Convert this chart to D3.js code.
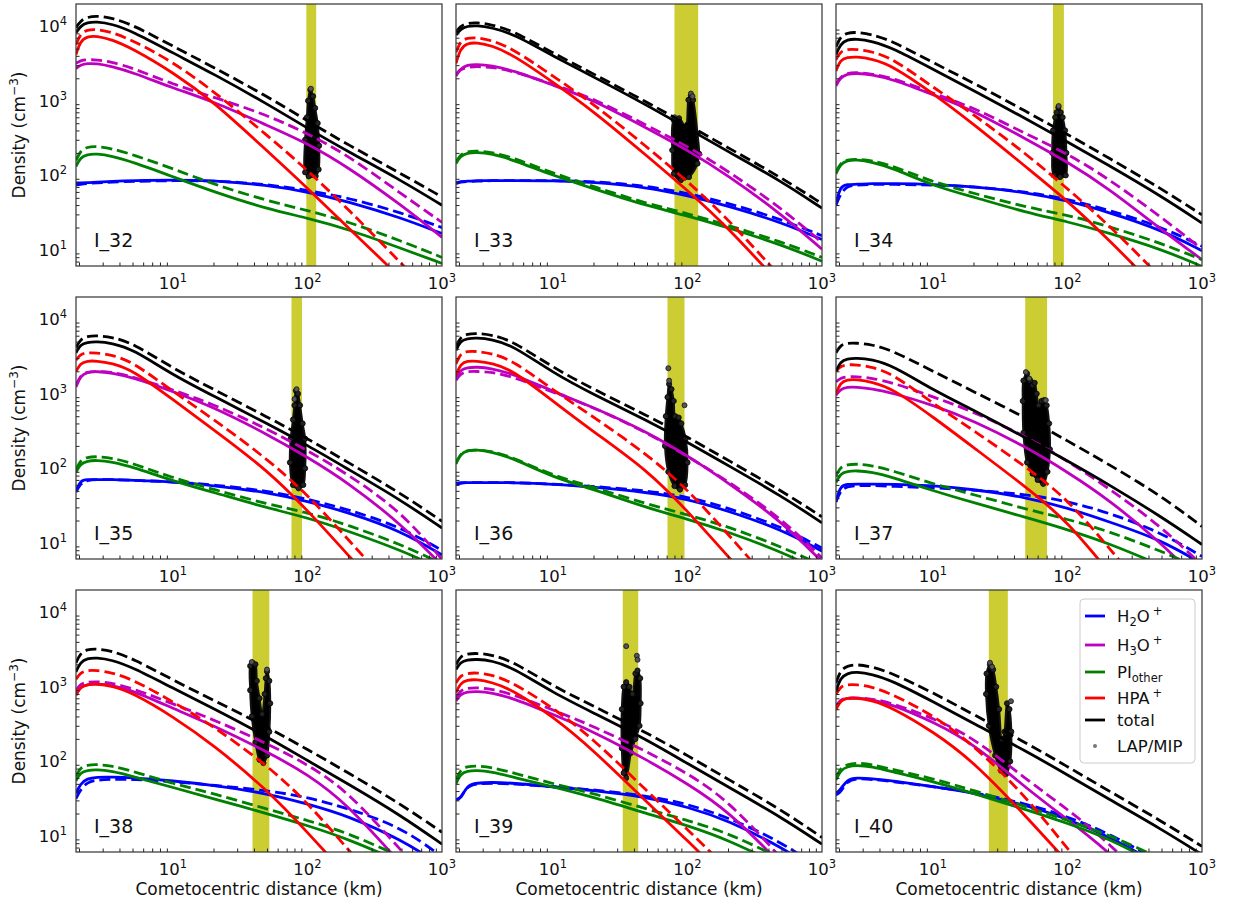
<!DOCTYPE html>
<html>
<head>
<meta charset="utf-8">
<script src="https://cdn.jsdelivr.net/npm/d3@7"></script>
<style>
  body { margin: 0; background: #fff; }
  svg { display: block; }
</style>
</head>
<body>
<svg></svg>
<script>
const width = 1239;
const height = 904;
const panelW = 366;
const panelH = 262;
const colX = [76, 456, 836];
const rowY = [4, 297, 590];

// model grid (km) shared by every curve
const distKm = [1.9, 2.05, 2.3, 2.7, 3.5, 5, 10, 20, 50, 100, 200, 500, 1000];
const runs = ["I_32", "I_33", "I_34", "I_35", "I_36", "I_37", "I_38", "I_39", "I_40"];
// spacecraft distance interval (km) per run
const bandKm = [[98, 116], [80, 120], [78, 94], [76, 91], [71, 95], [48.5, 70.5], [39, 52], [33, 43], [26, 36]];
const xTicks = [10, 100, 1000];
const yTicks = [10, 100, 1000, 10000];

// log10 density (cm^-3), one row per run
const h2oSolid = [
  [1.90, 1.90, 1.90, 1.91, 1.92, 1.93, 1.94, 1.93, 1.87, 1.78, 1.65, 1.43, 1.22],
  [1.90, 1.92, 1.92, 1.93, 1.93, 1.93, 1.93, 1.91, 1.84, 1.73, 1.59, 1.37, 1.14],
  [1.62, 1.86, 1.88, 1.88, 1.89, 1.89, 1.88, 1.85, 1.77, 1.66, 1.51, 1.27, 0.99],
  [1.70, 1.84, 1.85, 1.85, 1.85, 1.84, 1.82, 1.77, 1.68, 1.56, 1.41, 1.16, 0.84],
  [1.80, 1.81, 1.81, 1.81, 1.81, 1.81, 1.79, 1.75, 1.68, 1.59, 1.43, 1.18, 0.89],
  [1.56, 1.77, 1.79, 1.79, 1.79, 1.79, 1.77, 1.72, 1.61, 1.47, 1.29, 1.04, 0.72],
  [1.57, 1.70, 1.77, 1.79, 1.79, 1.78, 1.74, 1.68, 1.57, 1.43, 1.27, 0.95, 0.60],
  [1.49, 1.49, 1.68, 1.71, 1.72, 1.71, 1.66, 1.61, 1.52, 1.39, 1.21, 0.85, 0.50],
  [1.57, 1.62, 1.76, 1.78, 1.77, 1.74, 1.66, 1.58, 1.41, 1.23, 1.00, 0.60, 0.30]
];
const h2oDashed = [
  [1.87, 1.88, 1.89, 1.90, 1.91, 1.92, 1.93, 1.93, 1.88, 1.80, 1.70, 1.50, 1.30],
  [1.89, 1.91, 1.92, 1.92, 1.93, 1.93, 1.93, 1.92, 1.86, 1.76, 1.63, 1.41, 1.19],
  [1.60, 1.75, 1.86, 1.87, 1.88, 1.88, 1.87, 1.85, 1.78, 1.68, 1.54, 1.31, 1.05],
  [1.68, 1.80, 1.84, 1.85, 1.85, 1.84, 1.82, 1.78, 1.70, 1.59, 1.45, 1.21, 0.90],
  [1.79, 1.80, 1.81, 1.81, 1.81, 1.81, 1.79, 1.76, 1.70, 1.62, 1.47, 1.22, 0.93],
  [1.55, 1.70, 1.76, 1.77, 1.77, 1.76, 1.74, 1.71, 1.65, 1.56, 1.41, 1.14, 0.82],
  [1.50, 1.62, 1.72, 1.75, 1.76, 1.76, 1.73, 1.68, 1.61, 1.52, 1.37, 1.12, 0.72],
  [1.49, 1.50, 1.67, 1.70, 1.71, 1.70, 1.66, 1.62, 1.54, 1.43, 1.25, 0.92, 0.55],
  [1.55, 1.58, 1.74, 1.77, 1.76, 1.73, 1.66, 1.59, 1.43, 1.26, 1.04, 0.65, 0.35]
];
const h3oSolid = [
  [3.43, 3.48, 3.50, 3.50, 3.46, 3.38, 3.17, 2.99, 2.67, 2.43, 2.11, 1.60, 1.17],
  [3.33, 3.43, 3.48, 3.49, 3.47, 3.41, 3.21, 3.01, 2.63, 2.34, 2.00, 1.48, 1.01],
  [3.20, 3.31, 3.36, 3.37, 3.35, 3.29, 3.08, 2.87, 2.48, 2.18, 1.83, 1.27, 0.87],
  [3.09, 3.24, 3.29, 3.30, 3.28, 3.22, 3.03, 2.82, 2.46, 2.15, 1.81, 1.25, 0.70],
  [3.22, 3.32, 3.35, 3.36, 3.34, 3.27, 3.03, 2.82, 2.49, 2.17, 1.81, 1.29, 0.75],
  [2.98, 3.06, 3.09, 3.09, 3.07, 3.01, 2.85, 2.64, 2.28, 1.95, 1.59, 1.00, 0.45],
  [2.89, 3.00, 3.03, 3.04, 3.02, 2.95, 2.71, 2.48, 2.13, 1.83, 1.42, 0.62, 0.00],
  [2.81, 2.90, 2.93, 2.94, 2.92, 2.85, 2.63, 2.40, 2.02, 1.70, 1.34, 0.62, 0.00],
  [2.72, 2.82, 2.85, 2.85, 2.83, 2.76, 2.53, 2.24, 1.63, 1.22, 0.80, 0.10, -0.50]
];
const h3oDashed = [
  [3.50, 3.54, 3.55, 3.55, 3.52, 3.44, 3.22, 3.05, 2.81, 2.56, 2.27, 1.75, 1.37],
  [3.36, 3.42, 3.45, 3.46, 3.45, 3.40, 3.22, 3.03, 2.67, 2.39, 2.06, 1.56, 1.10],
  [3.22, 3.32, 3.37, 3.38, 3.36, 3.31, 3.10, 2.91, 2.55, 2.29, 1.96, 1.44, 1.01],
  [3.11, 3.25, 3.29, 3.30, 3.29, 3.23, 3.05, 2.86, 2.53, 2.24, 1.92, 1.42, 0.78],
  [3.18, 3.27, 3.30, 3.30, 3.29, 3.23, 3.02, 2.82, 2.48, 2.16, 1.83, 1.33, 0.80],
  [3.16, 3.21, 3.23, 3.23, 3.21, 3.15, 2.96, 2.76, 2.42, 2.10, 1.74, 1.22, 0.70],
  [2.95, 3.04, 3.06, 3.07, 3.05, 2.98, 2.77, 2.56, 2.24, 1.96, 1.60, 0.80, 0.20],
  [2.85, 2.95, 2.98, 2.99, 2.97, 2.90, 2.69, 2.47, 2.13, 1.84, 1.48, 0.70, 0.10],
  [2.74, 2.83, 2.85, 2.85, 2.84, 2.78, 2.58, 2.32, 1.75, 1.36, 0.92, 0.20, -0.40]
];
const piSolid = [
  [2.12, 2.24, 2.28, 2.29, 2.26, 2.18, 1.98, 1.78, 1.55, 1.43, 1.28, 1.02, 0.82],
  [2.16, 2.26, 2.30, 2.31, 2.29, 2.21, 2.00, 1.82, 1.59, 1.46, 1.30, 1.07, 0.85],
  [2.02, 2.15, 2.20, 2.21, 2.18, 2.10, 1.86, 1.71, 1.50, 1.38, 1.23, 1.01, 0.78],
  [1.95, 2.06, 2.10, 2.11, 2.09, 2.02, 1.83, 1.68, 1.47, 1.34, 1.16, 0.90, 0.65],
  [2.06, 2.19, 2.24, 2.25, 2.22, 2.14, 1.88, 1.72, 1.47, 1.32, 1.15, 0.88, 0.62],
  [1.81, 1.93, 1.96, 1.97, 1.95, 1.88, 1.70, 1.54, 1.34, 1.18, 1.00, 0.70, 0.45],
  [1.74, 1.85, 1.88, 1.89, 1.87, 1.80, 1.65, 1.50, 1.30, 1.14, 0.96, 0.65, 0.40],
  [1.70, 1.83, 1.87, 1.88, 1.86, 1.79, 1.66, 1.52, 1.30, 1.14, 0.95, 0.60, 0.35],
  [1.75, 1.88, 1.93, 1.95, 1.93, 1.86, 1.73, 1.57, 1.35, 1.17, 0.97, 0.60, 0.30]
];
const piDashed = [
  [2.20, 2.33, 2.38, 2.39, 2.36, 2.28, 2.09, 1.88, 1.66, 1.53, 1.38, 1.12, 0.90],
  [2.18, 2.28, 2.32, 2.33, 2.31, 2.24, 2.03, 1.85, 1.62, 1.49, 1.33, 1.11, 0.90],
  [2.04, 2.17, 2.21, 2.22, 2.20, 2.13, 1.91, 1.76, 1.57, 1.47, 1.32, 1.09, 0.87],
  [1.98, 2.11, 2.15, 2.16, 2.14, 2.07, 1.87, 1.72, 1.52, 1.41, 1.24, 0.98, 0.72],
  [2.07, 2.20, 2.24, 2.25, 2.23, 2.15, 1.90, 1.75, 1.52, 1.38, 1.22, 0.95, 0.70],
  [1.90, 2.02, 2.05, 2.06, 2.04, 1.97, 1.79, 1.65, 1.45, 1.32, 1.16, 0.89, 0.65],
  [1.80, 1.92, 1.95, 1.96, 1.94, 1.87, 1.70, 1.57, 1.36, 1.21, 1.04, 0.72, 0.45],
  [1.75, 1.89, 1.93, 1.94, 1.92, 1.85, 1.70, 1.57, 1.36, 1.21, 1.04, 0.70, 0.40],
  [1.78, 1.91, 1.96, 1.98, 1.96, 1.89, 1.77, 1.61, 1.39, 1.21, 1.02, 0.70, 0.40]
];
const hpaSolid = [
  [3.62, 3.80, 3.86, 3.87, 3.82, 3.70, 3.38, 2.99, 2.33, 1.83, 1.30, 0.62, 0.05],
  [3.50, 3.70, 3.77, 3.78, 3.74, 3.62, 3.25, 2.86, 2.26, 1.80, 1.30, 0.52, -0.05],
  [3.40, 3.55, 3.58, 3.59, 3.56, 3.47, 3.10, 2.69, 2.10, 1.66, 1.15, 0.42, -0.15],
  [3.30, 3.41, 3.44, 3.44, 3.41, 3.32, 2.92, 2.52, 1.98, 1.44, 0.84, 0.05, -0.55],
  [3.25, 3.40, 3.44, 3.44, 3.41, 3.32, 2.90, 2.49, 1.98, 1.43, 0.82, 0.02, -0.58],
  [3.00, 3.15, 3.19, 3.19, 3.16, 3.07, 2.69, 2.28, 1.74, 1.29, 0.62, -0.20, -0.80],
  [2.89, 3.00, 3.03, 3.04, 3.01, 2.92, 2.60, 2.22, 1.62, 1.05, 0.45, -0.30, -0.90],
  [2.92, 3.05, 3.09, 3.10, 3.06, 2.96, 2.60, 2.15, 1.45, 0.94, 0.40, -0.30, -0.85],
  [2.69, 2.82, 2.85, 2.85, 2.82, 2.72, 2.40, 2.00, 1.25, 0.65, 0.05, -0.70, -1.30]
];
const hpaDashed = [
  [3.75, 3.90, 3.95, 3.96, 3.92, 3.81, 3.52, 3.13, 2.54, 2.07, 1.55, 0.82, 0.25],
  [3.65, 3.80, 3.84, 3.85, 3.81, 3.70, 3.33, 2.96, 2.38, 1.92, 1.42, 0.62, 0.05],
  [3.55, 3.66, 3.69, 3.69, 3.66, 3.57, 3.18, 2.82, 2.28, 1.82, 1.35, 0.62, 0.05],
  [3.45, 3.53, 3.55, 3.55, 3.52, 3.43, 3.03, 2.66, 2.13, 1.65, 1.05, 0.25, -0.40],
  [3.40, 3.54, 3.57, 3.57, 3.54, 3.45, 3.05, 2.69, 2.19, 1.72, 1.12, 0.30, -0.30],
  [3.30, 3.37, 3.39, 3.39, 3.36, 3.27, 2.87, 2.51, 2.01, 1.59, 0.95, 0.10, -0.50],
  [3.10, 3.19, 3.22, 3.22, 3.19, 3.10, 2.80, 2.47, 1.95, 1.45, 0.82, 0.00, -0.60],
  [3.05, 3.15, 3.18, 3.19, 3.16, 3.06, 2.72, 2.30, 1.60, 1.09, 0.55, -0.15, -0.70],
  [2.90, 3.00, 3.03, 3.03, 3.00, 2.90, 2.62, 2.22, 1.52, 0.82, 0.20, -0.50, -1.10]
];
const totalSolid = [
  [3.91, 4.00, 4.05, 4.06, 4.03, 3.93, 3.64, 3.36, 2.96, 2.63, 2.32, 1.93, 1.60],
  [3.88, 3.96, 4.00, 4.01, 3.98, 3.90, 3.60, 3.32, 2.94, 2.63, 2.32, 1.92, 1.56],
  [3.62, 3.76, 3.82, 3.83, 3.80, 3.71, 3.42, 3.14, 2.75, 2.45, 2.14, 1.72, 1.36],
  [3.55, 3.66, 3.69, 3.70, 3.68, 3.60, 3.25, 2.97, 2.60, 2.31, 1.99, 1.57, 1.20],
  [3.58, 3.71, 3.74, 3.75, 3.73, 3.65, 3.28, 2.99, 2.64, 2.35, 2.04, 1.63, 1.27],
  [3.30, 3.43, 3.47, 3.48, 3.46, 3.38, 3.05, 2.78, 2.40, 2.10, 1.79, 1.35, 0.98],
  [3.20, 3.33, 3.38, 3.39, 3.36, 3.26, 2.98, 2.71, 2.33, 2.01, 1.70, 1.27, 0.89],
  [3.23, 3.33, 3.36, 3.37, 3.35, 3.26, 2.92, 2.65, 2.29, 1.97, 1.66, 1.25, 0.89],
  [2.94, 3.12, 3.18, 3.20, 3.17, 3.08, 2.80, 2.51, 2.13, 1.82, 1.50, 1.09, 0.75]
];
const totalDashed = [
  [3.98, 4.07, 4.12, 4.14, 4.11, 4.02, 3.73, 3.45, 3.06, 2.73, 2.41, 2.02, 1.71],
  [3.92, 4.00, 4.04, 4.05, 4.02, 3.94, 3.64, 3.36, 2.98, 2.68, 2.37, 1.97, 1.62],
  [3.72, 3.86, 3.91, 3.92, 3.89, 3.80, 3.51, 3.24, 2.85, 2.55, 2.24, 1.82, 1.47],
  [3.62, 3.73, 3.77, 3.78, 3.76, 3.68, 3.34, 3.06, 2.69, 2.40, 2.08, 1.66, 1.29],
  [3.63, 3.76, 3.80, 3.81, 3.79, 3.71, 3.35, 3.06, 2.71, 2.42, 2.11, 1.70, 1.35],
  [3.55, 3.65, 3.68, 3.68, 3.66, 3.58, 3.30, 3.03, 2.67, 2.37, 2.06, 1.63, 1.22],
  [3.32, 3.45, 3.50, 3.51, 3.48, 3.38, 3.09, 2.82, 2.46, 2.16, 1.85, 1.42, 1.05],
  [3.30, 3.41, 3.44, 3.45, 3.43, 3.34, 3.01, 2.74, 2.38, 2.08, 1.76, 1.35, 0.98],
  [3.05, 3.22, 3.28, 3.30, 3.27, 3.18, 2.92, 2.63, 2.24, 1.93, 1.61, 1.20, 0.86]
];

// LAP/MIP measurements: outline of the dense point cloud [km, cm^-3]
const lapMipOutline = [
  [[105, 1400], [110, 1150], [114, 800], [119, 500], [122, 250], [121, 120], [115, 98], [102, 97], [96, 110], [96, 300], [99, 600], [101, 1000]],
  [[79, 553], [86.5, 583], [97, 450], [101.6, 1025], [105.8, 1170], [110, 1025], [118.6, 363], [122, 195], [118.6, 144], [102.6, 95], [89, 86], [79, 105], [77, 218]],
  [[85.5, 815], [89, 700], [92, 600], [96, 400], [98, 200], [97, 100], [88, 95], [79, 100], [77, 200], [78, 400], [81, 600], [83, 700]],
  [[82, 1100], [85, 1000], [88, 700], [92, 400], [96, 250], [96, 100], [93, 60], [86, 54], [78, 60], [74, 120], [75, 250], [78, 450], [80, 700]],
  [[73, 1350], [76, 1150], [79, 800], [81, 500], [86, 480], [90, 400], [97, 250], [100, 120], [96, 60], [88, 52], [80, 58], [72, 90], [68, 200], [69, 500], [71, 900]],
  [[47, 1500], [50, 1870], [53, 1500], [55, 1300], [57, 1400], [59, 1000], [61, 700], [64, 800], [67, 820], [70, 700], [73, 400], [74, 180], [71, 90], [66, 62], [60, 70], [55, 85], [50, 120], [47, 300], [46.5, 800]],
  [[37.5, 1900], [39, 2100], [41, 2000], [42, 1200], [44, 700], [46, 430], [48, 800], [49, 1300], [50, 1600], [52, 1200], [52.8, 600], [52, 250], [50, 120], [47, 95], [44, 105], [41, 180], [38.5, 400], [37.5, 900]],
  [[33.5, 1000], [35, 1150], [37, 1000], [39, 800], [41, 1500], [42.5, 1650], [44.5, 1300], [44.8, 600], [44, 300], [41, 200], [38, 130], [35, 60], [33.5, 70], [32.5, 150], [32.5, 500]],
  [[25, 1500], [26.5, 2000], [28, 1700], [29.5, 1000], [31, 500], [32.5, 200], [34, 250], [35.5, 600], [37, 500], [38.2, 250], [37.5, 100], [35, 68], [32, 75], [29, 120], [26, 300], [24.8, 800]]
];
// isolated LAP/MIP points outside the cloud
const lapMipOutliers = [
  [[106, 1450]],
  [[80, 600], [106, 1250], [109, 1150]],
  [[86, 850]],
  [[83, 1150], [80, 850]],
  [[72, 2200], [73, 1500], [95, 700]],
  [[49, 1950], [52, 1600], [69, 820]],
  [[38.5, 2150], [50, 1700]],
  [[35, 3500], [42, 2600], [42.5, 2300]],
  [[26.5, 2100], [27.5, 1850], [38, 640]]
];

const seriesDefs = [
  { key: "h2o", color: "#0000ff", solid: h2oSolid, dashed: h2oDashed },
  { key: "h3o", color: "#bf00bf", solid: h3oSolid, dashed: h3oDashed },
  { key: "pi", color: "#008000", solid: piSolid, dashed: piDashed },
  { key: "hpa", color: "#ff0000", solid: hpaSolid, dashed: hpaDashed },
  { key: "total", color: "#000000", solid: totalSolid, dashed: totalDashed }
];

const font = '"DejaVu Sans", sans-serif';

const svg = d3.select("svg")
  .attr("width", width)
  .attr("height", height)
  .style("font-family", font);

const x = d3.scaleLog().domain([1.9, 1000]).range([0, panelW]);
const y = d3.scaleLog().domain([6.1, 19800]).range([panelH, 0]);

const line = d3.line()
  .x(d => x(d[0]))
  .y(d => y(d[1]))
  .curve(d3.curveBasis);

const blob = d3.line()
  .x(d => x(d[0]))
  .y(d => y(d[1]))
  .curve(d3.curveCatmullRomClosed.alpha(0.5));

const minorX = [];
[1, 10, 100].forEach(p => d3.range(2, 10).forEach(m => { if (m * p > 1.9) minorX.push(m * p); }));
const minorY = [];
[1, 10, 100, 1000, 10000].forEach(p => d3.range(2, 10).forEach(m => {
  if (m * p > 6.1 && m * p < 19800) minorY.push(m * p);
}));

function powLabel(text, exp) {
  text.append("tspan").text("10");
  text.append("tspan").attr("dy", -7).attr("font-size", 11.5).text(exp);
}

runs.forEach((run, i) => {
  const col = i % 3, row = Math.floor(i / 3);
  const g = svg.append("g").attr("transform", `translate(${colX[col]},${rowY[row]})`);

  g.append("clipPath").attr("id", "clip" + i)
    .append("rect").attr("width", panelW).attr("height", panelH);

  const plot = g.append("g").attr("clip-path", `url(#clip${i})`);

  plot.append("rect")
    .attr("x", x(bandKm[i][0]))
    .attr("y", 0)
    .attr("width", x(bandKm[i][1]) - x(bandKm[i][0]))
    .attr("height", panelH)
    .attr("fill", "#cccc33");

  plot.append("path")
    .attr("d", blob(lapMipOutline[i]))
    .attr("fill", "#000")
    .attr("stroke", "#111")
    .attr("stroke-width", 2)
    .attr("stroke-linejoin", "round");

  // rough the cloud edge with a few markers on its outline
  plot.selectAll("circle.edge")
    .data(lapMipOutline[i])
    .enter()
    .append("circle")
    .attr("class", "edge")
    .attr("cx", d => x(d[0]))
    .attr("cy", d => y(d[1]))
    .attr("r", 2.6)
    .attr("fill", "#222")
    .attr("stroke", "#000")
    .attr("stroke-width", 0.8);

  plot.selectAll("circle.out")
    .data(lapMipOutliers[i])
    .enter()
    .append("circle")
    .attr("class", "out")
    .attr("cx", d => x(d[0]))
    .attr("cy", d => y(d[1]))
    .attr("r", 2.5)
    .attr("fill", "#555")
    .attr("stroke", "#111")
    .attr("stroke-width", 0.8);

  seriesDefs.forEach(s => {
    [["solid", null], ["dashed", "11,5"]].forEach(([kind, dash]) => {
      const pts = distKm.map((km, j) => [km, Math.pow(10, s[kind][i][j])]);
      plot.append("path")
        .attr("d", line(pts))
        .attr("fill", "none")
        .attr("stroke", s.color)
        .attr("stroke-width", 2.8)
        .attr("stroke-dasharray", dash);
    });
  });

  // ticks pointing inward
  const xAxis = g.append("g").attr("transform", `translate(0,${panelH})`);
  xAxis.call(d3.axisBottom(x).tickValues(xTicks).tickSize(-6).tickFormat(""));
  xAxis.call(d3.axisBottom(x).tickValues(minorX).tickSize(-3.5).tickFormat(""));
  const yAxis = g.append("g");
  yAxis.call(d3.axisLeft(y).tickValues(yTicks).tickSize(-6).tickFormat(""));
  yAxis.call(d3.axisLeft(y).tickValues(minorY).tickSize(-3.5).tickFormat(""));
  g.selectAll(".domain").remove();
  g.selectAll(".tick line").attr("stroke", "#222").attr("stroke-width", 1);

  g.append("rect")
    .attr("width", panelW)
    .attr("height", panelH)
    .attr("fill", "none")
    .attr("stroke", "#333")
    .attr("stroke-width", 1.2);

  xTicks.forEach(v => {
    const t = g.append("text")
      .attr("x", x(v))
      .attr("y", panelH + 23)
      .attr("text-anchor", "middle")
      .attr("font-size", 16.5)
      .attr("fill", "#111");
    powLabel(t, Math.round(Math.log10(v)));
  });

  if (col === 0) {
    yTicks.forEach(v => {
      const t = g.append("text")
        .attr("x", -9)
        .attr("y", y(v) + 6)
        .attr("text-anchor", "end")
        .attr("font-size", 16.5)
        .attr("fill", "#111");
      powLabel(t, Math.round(Math.log10(v)));
    });
    const yl = svg.append("text")
      .attr("transform", `translate(25,${rowY[row] + panelH / 2}) rotate(-90)`)
      .attr("text-anchor", "middle")
      .attr("font-size", 17)
      .attr("fill", "#111");
    yl.append("tspan").text("Density (cm");
    yl.append("tspan").attr("dy", -7).attr("font-size", 12).text("\u22123");
    yl.append("tspan").attr("dy", 7).text(")");
  }

  g.append("text")
    .attr("x", 18)
    .attr("y", 243)
    .attr("font-size", 19)
    .attr("fill", "#111")
    .text(run);
});

colX.forEach(cx => {
  svg.append("text")
    .attr("x", cx + panelW / 2)
    .attr("y", 895)
    .attr("text-anchor", "middle")
    .attr("font-size", 17)
    .attr("fill", "#111")
    .text("Cometocentric distance (km)");
});

// legend in the last panel
const legend = svg.append("g").attr("transform", "translate(1080,599)");
legend.append("rect")
  .attr("width", 115)
  .attr("height", 164)
  .attr("rx", 4)
  .attr("fill", "#fff")
  .attr("fill-opacity", 0.8)
  .attr("stroke", "#ccc");

const legendRows = [
  { y: 17, color: "#0000ff", parts: [["H", 0], ["2", 1], ["O", 0], ["+", 2]] },
  { y: 46, color: "#bf00bf", parts: [["H", 0], ["3", 1], ["O", 0], ["+", 2]] },
  { y: 73, color: "#008000", parts: [["PI", 0], ["other", 1]] },
  { y: 99, color: "#ff0000", parts: [["HPA", 0], ["+", 2]] },
  { y: 121, color: "#000000", parts: [["total", 0]] },
  { y: 147, color: null, parts: [["LAP/MIP", 0]] }
];

legendRows.forEach(r => {
  if (r.color) {
    legend.append("line")
      .attr("x1", 5).attr("x2", 25)
      .attr("y1", r.y).attr("y2", r.y)
      .attr("stroke", r.color)
      .attr("stroke-width", 2.8);
  } else {
    legend.append("circle")
      .attr("cx", 15).attr("cy", r.y)
      .attr("r", 2)
      .attr("fill", "#777");
  }
  const t = legend.append("text")
    .attr("x", 37)
    .attr("y", r.y + 6)
    .attr("font-size", 16.5)
    .attr("fill", "#111");
  let shift = 0;
  r.parts.forEach(([txt, kind]) => {
    const target = kind === 1 ? 4 : kind === 2 ? -7 : 0;
    const sp = t.append("tspan").attr("dy", target - shift).text(txt);
    if (kind > 0) sp.attr("font-size", 11.5);
    if (kind === 2) sp.attr("dx", 3);
    shift = target;
  });
});
</script>
</body>
</html>
